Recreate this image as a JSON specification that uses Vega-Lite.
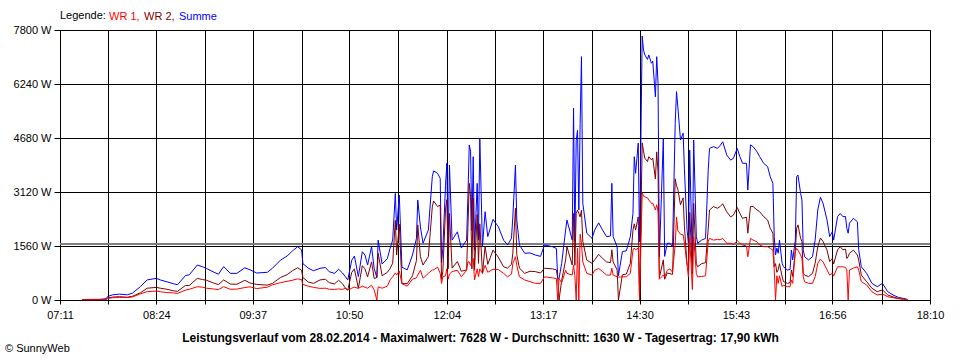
{
  "$schema": "https://vega.github.io/schema/vega-lite/v6.json",
  "width": 870,
  "height": 270,
  "autosize": {"type": "none"},
  "padding": {"left": 60, "top": 30, "right": 30, "bottom": 60},
  "background": "white",
  "title": {"text": "© SunnyWeb", "orient": "bottom", "anchor": "start", "frame": "group", "fontSize": 11, "fontWeight": "normal", "font": "Liberation Sans", "color": "black", "dx": -55, "offset": 0},
  "data": {
    "format": {"parse": {"t": "date:'%H:%M'"}},
    "values": [
      {"t":"07:28","WR 1":5,"WR 2":10,"Summe":15},
      {"t":"07:41","WR 1":10,"WR 2":10,"Summe":20},
      {"t":"07:46","WR 1":15,"WR 2":20,"Summe":35},
      {"t":"07:47","WR 1":45,"WR 2":55,"Summe":100},
      {"t":"07:51","WR 1":65,"WR 2":85,"Summe":150},
      {"t":"07:56","WR 1":75,"WR 2":95,"Summe":170},
      {"t":"08:02","WR 1":70,"WR 2":80,"Summe":150},
      {"t":"08:06","WR 1":90,"WR 2":110,"Summe":200},
      {"t":"08:12","WR 1":180,"WR 2":210,"Summe":390},
      {"t":"08:17","WR 1":240,"WR 2":340,"Summe":580},
      {"t":"08:24","WR 1":260,"WR 2":365,"Summe":625},
      {"t":"08:27","WR 1":240,"WR 2":340,"Summe":580},
      {"t":"08:32","WR 1":215,"WR 2":310,"Summe":525},
      {"t":"08:37","WR 1":205,"WR 2":265,"Summe":470},
      {"t":"08:40","WR 1":190,"WR 2":250,"Summe":440},
      {"t":"08:46","WR 1":285,"WR 2":420,"Summe":705},
      {"t":"08:49","WR 1":310,"WR 2":420,"Summe":730},
      {"t":"08:55","WR 1":385,"WR 2":625,"Summe":1010},
      {"t":"08:59","WR 1":370,"WR 2":590,"Summe":960},
      {"t":"09:02","WR 1":340,"WR 2":570,"Summe":910},
      {"t":"09:07","WR 1":320,"WR 2":495,"Summe":815},
      {"t":"09:11","WR 1":300,"WR 2":445,"Summe":745},
      {"t":"09:15","WR 1":385,"WR 2":580,"Summe":965},
      {"t":"09:20","WR 1":310,"WR 2":460,"Summe":770},
      {"t":"09:25","WR 1":315,"WR 2":455,"Summe":770},
      {"t":"09:31","WR 1":360,"WR 2":570,"Summe":930},
      {"t":"09:35","WR 1":380,"WR 2":490,"Summe":870},
      {"t":"09:40","WR 1":330,"WR 2":450,"Summe":780},
      {"t":"09:48","WR 1":370,"WR 2":430,"Summe":800},
      {"t":"09:52","WR 1":440,"WR 2":480,"Summe":920},
      {"t":"09:58","WR 1":500,"WR 2":650,"Summe":1150},
      {"t":"10:03","WR 1":540,"WR 2":730,"Summe":1270},
      {"t":"10:07","WR 1":570,"WR 2":845,"Summe":1415},
      {"t":"10:11","WR 1":610,"WR 2":930,"Summe":1540},
      {"t":"10:14","WR 1":590,"WR 2":860,"Summe":1450},
      {"t":"10:15","WR 1":450,"WR 2":650,"Summe":1050},
      {"t":"10:19","WR 1":400,"WR 2":520,"Summe":920},
      {"t":"10:23","WR 1":365,"WR 2":480,"Summe":845},
      {"t":"10:28","WR 1":335,"WR 2":580,"Summe":915},
      {"t":"10:32","WR 1":340,"WR 2":600,"Summe":940},
      {"t":"10:35","WR 1":310,"WR 2":500,"Summe":815},
      {"t":"10:39","WR 1":305,"WR 2":465,"Summe":770},
      {"t":"10:42","WR 1":320,"WR 2":570,"Summe":890},
      {"t":"10:45","WR 1":305,"WR 2":470,"Summe":780},
      {"t":"10:47","WR 1":335,"WR 2":350,"Summe":680},
      {"t":"10:49","WR 1":290,"WR 2":290,"Summe":580},
      {"t":"10:52","WR 1":340,"WR 2":800,"Summe":1150},
      {"t":"10:54","WR 1":370,"WR 2":900,"Summe":1270},
      {"t":"10:57","WR 1":335,"WR 2":340,"Summe":675},
      {"t":"11:00","WR 1":400,"WR 2":990,"Summe":1395},
      {"t":"11:02","WR 1":370,"WR 2":900,"Summe":1300},
      {"t":"11:04","WR 1":340,"WR 2":670,"Summe":1010},
      {"t":"11:07","WR 1":430,"WR 2":1100,"Summe":1540},
      {"t":"11:09","WR 1":290,"WR 2":620,"Summe":910},
      {"t":"11:11","WR 1":0,"WR 2":650,"Summe":650},
      {"t":"11:12","WR 1":380,"WR 2":1350,"Summe":1730},
      {"t":"11:15","WR 1":340,"WR 2":700,"Summe":1040},
      {"t":"11:19","WR 1":400,"WR 2":800,"Summe":1200},
      {"t":"11:21","WR 1":580,"WR 2":910,"Summe":1490},
      {"t":"11:23","WR 1":670,"WR 2":1060,"Summe":1730},
      {"t":"11:25","WR 1":780,"WR 2":2300,"Summe":3080},
      {"t":"11:26","WR 1":720,"WR 2":1300,"Summe":2020},
      {"t":"11:28","WR 1":840,"WR 2":2190,"Summe":3030},
      {"t":"11:30","WR 1":470,"WR 2":480,"Summe":950},
      {"t":"11:34","WR 1":400,"WR 2":470,"Summe":870},
      {"t":"11:38","WR 1":600,"WR 2":700,"Summe":1300},
      {"t":"11:41","WR 1":640,"WR 2":1140,"Summe":1780},
      {"t":"11:42","WR 1":720,"WR 2":2170,"Summe":2890},
      {"t":"11:44","WR 1":860,"WR 2":1250,"Summe":2110},
      {"t":"11:46","WR 1":630,"WR 2":1010,"Summe":1640},
      {"t":"11:50","WR 1":770,"WR 2":1250,"Summe":2020},
      {"t":"11:53","WR 1":870,"WR 2":2690,"Summe":3560},
      {"t":"11:54","WR 1":870,"WR 2":2860,"Summe":3730},
      {"t":"11:57","WR 1":950,"WR 2":2700,"Summe":3660},
      {"t":"11:59","WR 1":770,"WR 2":2740,"Summe":3510},
      {"t":"12:00","WR 1":480,"WR 2":600,"Summe":1080},
      {"t":"12:01","WR 1":670,"WR 2":830,"Summe":1500},
      {"t":"12:03","WR 1":700,"WR 2":2600,"Summe":3300},
      {"t":"12:04","WR 1":900,"WR 2":2900,"Summe":3950},
      {"t":"12:05","WR 1":600,"WR 2":900,"Summe":1500},
      {"t":"12:06","WR 1":750,"WR 2":2500,"Summe":3900},
      {"t":"12:08","WR 1":820,"WR 2":920,"Summe":1730},
      {"t":"12:12","WR 1":860,"WR 2":1110,"Summe":1970},
      {"t":"12:15","WR 1":670,"WR 2":830,"Summe":1500},
      {"t":"12:19","WR 1":860,"WR 2":870,"Summe":1730},
      {"t":"12:20","WR 1":1100,"WR 2":2100,"Summe":3000},
      {"t":"12:21","WR 1":1100,"WR 2":3370,"Summe":4480},
      {"t":"12:22","WR 1":1000,"WR 2":3000,"Summe":4300},
      {"t":"12:23","WR 1":1100,"WR 2":900,"Summe":2000},
      {"t":"12:24","WR 1":1200,"WR 2":2940,"Summe":4140},
      {"t":"12:25","WR 1":580,"WR 2":860,"Summe":1440},
      {"t":"12:27","WR 1":900,"WR 2":2470,"Summe":3370},
      {"t":"12:28","WR 1":670,"WR 2":1060,"Summe":1730},
      {"t":"12:29","WR 1":900,"WR 2":2200,"Summe":4670},
      {"t":"12:31","WR 1":770,"WR 2":770,"Summe":1540},
      {"t":"12:33","WR 1":1000,"WR 2":1550,"Summe":2550},
      {"t":"12:35","WR 1":800,"WR 2":1030,"Summe":1830},
      {"t":"12:39","WR 1":890,"WR 2":1440,"Summe":2330},
      {"t":"12:43","WR 1":880,"WR 2":1240,"Summe":2120},
      {"t":"12:47","WR 1":770,"WR 2":960,"Summe":1730},
      {"t":"12:50","WR 1":670,"WR 2":920,"Summe":1590},
      {"t":"12:53","WR 1":750,"WR 2":1030,"Summe":1780},
      {"t":"12:54","WR 1":1050,"WR 2":1350,"Summe":2400},
      {"t":"12:56","WR 1":1250,"WR 2":2650,"Summe":3900},
      {"t":"12:57","WR 1":1000,"WR 2":1310,"Summe":2310},
      {"t":"12:59","WR 1":670,"WR 2":920,"Summe":1590},
      {"t":"13:03","WR 1":580,"WR 2":770,"Summe":1350},
      {"t":"13:07","WR 1":530,"WR 2":830,"Summe":1360},
      {"t":"13:11","WR 1":480,"WR 2":820,"Summe":1300},
      {"t":"13:15","WR 1":480,"WR 2":780,"Summe":1260},
      {"t":"13:18","WR 1":670,"WR 2":920,"Summe":1590},
      {"t":"13:24","WR 1":640,"WR 2":900,"Summe":1540},
      {"t":"13:27","WR 1":620,"WR 2":870,"Summe":1490},
      {"t":"13:28","WR 1":0,"WR 2":630,"Summe":630},
      {"t":"13:29","WR 1":620,"WR 2":0,"Summe":620},
      {"t":"13:31","WR 1":500,"WR 2":560,"Summe":1060},
      {"t":"13:34","WR 1":860,"WR 2":1160,"Summe":2020},
      {"t":"13:35","WR 1":770,"WR 2":1540,"Summe":2310},
      {"t":"13:39","WR 1":720,"WR 2":1010,"Summe":1730},
      {"t":"13:40","WR 1":1000,"WR 2":2500,"Summe":5540},
      {"t":"13:41","WR 1":700,"WR 2":1000,"Summe":1700},
      {"t":"13:42","WR 1":0,"WR 2":2500,"Summe":4600},
      {"t":"13:43","WR 1":1500,"WR 2":2600,"Summe":4900},
      {"t":"13:44","WR 1":0,"WR 2":2500,"Summe":2600},
      {"t":"13:45","WR 1":1900,"WR 2":2400,"Summe":5100},
      {"t":"13:46","WR 1":1650,"WR 2":2600,"Summe":7030},
      {"t":"13:47","WR 1":1100,"WR 2":1700,"Summe":2800},
      {"t":"13:50","WR 1":770,"WR 2":1150,"Summe":1930},
      {"t":"13:54","WR 1":720,"WR 2":1060,"Summe":1780},
      {"t":"13:56","WR 1":860,"WR 2":1160,"Summe":2020},
      {"t":"13:59","WR 1":910,"WR 2":1320,"Summe":2230},
      {"t":"14:02","WR 1":820,"WR 2":1200,"Summe":2020},
      {"t":"14:05","WR 1":720,"WR 2":1100,"Summe":1830},
      {"t":"14:08","WR 1":720,"WR 2":1080,"Summe":1850},
      {"t":"14:09","WR 1":920,"WR 2":1450,"Summe":3370},
      {"t":"14:10","WR 1":720,"WR 2":1100,"Summe":1830},
      {"t":"14:13","WR 1":670,"WR 2":870,"Summe":1540},
      {"t":"14:14","WR 1":660,"WR 2":0,"Summe":700},
      {"t":"14:17","WR 1":670,"WR 2":730,"Summe":1400},
      {"t":"14:20","WR 1":670,"WR 2":750,"Summe":1420},
      {"t":"14:23","WR 1":770,"WR 2":1060,"Summe":1830},
      {"t":"14:25","WR 1":1440,"WR 2":2020,"Summe":2500},
      {"t":"14:26","WR 1":1500,"WR 2":2200,"Summe":4140},
      {"t":"14:27","WR 1":1450,"WR 2":2020,"Summe":3660},
      {"t":"14:29","WR 1":1500,"WR 2":2400,"Summe":4530},
      {"t":"14:30","WR 1":0,"WR 2":0,"Summe":1680},
      {"t":"14:32","WR 1":3090,"WR 2":4540,"Summe":7628},
      {"t":"14:33","WR 1":3000,"WR 2":4300,"Summe":7220},
      {"t":"14:34","WR 1":2980,"WR 2":4100,"Summe":7080},
      {"t":"14:36","WR 1":2950,"WR 2":4000,"Summe":6950},
      {"t":"14:37","WR 1":2890,"WR 2":4140,"Summe":7080},
      {"t":"14:39","WR 1":2790,"WR 2":4050,"Summe":6840},
      {"t":"14:40","WR 1":2800,"WR 2":4100,"Summe":6900},
      {"t":"14:42","WR 1":2600,"WR 2":3500,"Summe":5870},
      {"t":"14:43","WR 1":2750,"WR 2":4280,"Summe":7030},
      {"t":"14:44","WR 1":2550,"WR 2":3700,"Summe":6260},
      {"t":"14:45","WR 1":600,"WR 2":650,"Summe":1250},
      {"t":"14:48","WR 1":720,"WR 2":1160,"Summe":4670},
      {"t":"14:49","WR 1":660,"WR 2":600,"Summe":1260},
      {"t":"14:51","WR 1":860,"WR 2":780,"Summe":1640},
      {"t":"14:53","WR 1":900,"WR 2":760,"Summe":1640},
      {"t":"14:55","WR 1":800,"WR 2":740,"Summe":1540},
      {"t":"14:57","WR 1":1600,"WR 2":3500,"Summe":5100},
      {"t":"14:58","WR 1":2400,"WR 2":3300,"Summe":6020},
      {"t":"14:59","WR 1":2000,"WR 2":3200,"Summe":5580},
      {"t":"15:01","WR 1":1900,"WR 2":2750,"Summe":4620},
      {"t":"15:03","WR 1":1880,"WR 2":2950,"Summe":4820},
      {"t":"15:04","WR 1":1640,"WR 2":2120,"Summe":3760},
      {"t":"15:06","WR 1":1000,"WR 2":1020,"Summe":2020},
      {"t":"15:07","WR 1":670,"WR 2":970,"Summe":1640},
      {"t":"15:08","WR 1":1800,"WR 2":2530,"Summe":4330},
      {"t":"15:10","WR 1":300,"WR 2":760,"Summe":1060},
      {"t":"15:11","WR 1":1830,"WR 2":2790,"Summe":4620},
      {"t":"15:13","WR 1":770,"WR 2":1060,"Summe":1830},
      {"t":"15:14","WR 1":670,"WR 2":960,"Summe":1640},
      {"t":"15:17","WR 1":680,"WR 2":1050,"Summe":1730},
      {"t":"15:20","WR 1":700,"WR 2":1080,"Summe":1780},
      {"t":"15:22","WR 1":1700,"WR 2":2050,"Summe":3750},
      {"t":"15:23","WR 1":1780,"WR 2":2600,"Summe":4380},
      {"t":"15:26","WR 1":1730,"WR 2":2700,"Summe":4430},
      {"t":"15:29","WR 1":1750,"WR 2":2650,"Summe":4380},
      {"t":"15:31","WR 1":1740,"WR 2":2700,"Summe":4460},
      {"t":"15:33","WR 1":1780,"WR 2":2780,"Summe":4570},
      {"t":"15:36","WR 1":1640,"WR 2":2550,"Summe":4190},
      {"t":"15:39","WR 1":1640,"WR 2":2400,"Summe":4040},
      {"t":"15:41","WR 1":1600,"WR 2":2450,"Summe":4090},
      {"t":"15:44","WR 1":1710,"WR 2":2670,"Summe":4380},
      {"t":"15:46","WR 1":1640,"WR 2":2500,"Summe":4140},
      {"t":"15:48","WR 1":1590,"WR 2":2360,"Summe":3950},
      {"t":"15:51","WR 1":1560,"WR 2":2390,"Summe":3950},
      {"t":"15:52","WR 1":1250,"WR 2":1930,"Summe":3180},
      {"t":"15:54","WR 1":1780,"WR 2":2700,"Summe":4480},
      {"t":"15:56","WR 1":1730,"WR 2":2700,"Summe":4430},
      {"t":"15:59","WR 1":1680,"WR 2":2600,"Summe":4280},
      {"t":"16:01","WR 1":1590,"WR 2":2550,"Summe":4140},
      {"t":"16:04","WR 1":1540,"WR 2":2410,"Summe":3950},
      {"t":"16:07","WR 1":1540,"WR 2":2310,"Summe":3850},
      {"t":"16:09","WR 1":1490,"WR 2":2070,"Summe":3560},
      {"t":"16:11","WR 1":1440,"WR 2":1930,"Summe":3370},
      {"t":"16:12","WR 1":870,"WR 2":960,"Summe":1830},
      {"t":"16:13","WR 1":0,"WR 2":1050,"Summe":1300},
      {"t":"16:14","WR 1":700,"WR 2":800,"Summe":1500},
      {"t":"16:15","WR 1":480,"WR 2":870,"Summe":1350},
      {"t":"16:16","WR 1":700,"WR 2":1050,"Summe":1730},
      {"t":"16:18","WR 1":385,"WR 2":675,"Summe":1060},
      {"t":"16:19","WR 1":430,"WR 2":530,"Summe":960},
      {"t":"16:22","WR 1":384,"WR 2":480,"Summe":867},
      {"t":"16:24","WR 1":385,"WR 2":500,"Summe":880},
      {"t":"16:25","WR 1":578,"WR 2":866,"Summe":1444},
      {"t":"16:26","WR 1":480,"WR 2":680,"Summe":1160},
      {"t":"16:28","WR 1":1400,"WR 2":1440,"Summe":1730},
      {"t":"16:29","WR 1":1490,"WR 2":2070,"Summe":3560},
      {"t":"16:30","WR 1":1440,"WR 2":2170,"Summe":3610},
      {"t":"16:32","WR 1":1300,"WR 2":1780,"Summe":3080},
      {"t":"16:33","WR 1":1200,"WR 2":1690,"Summe":2890},
      {"t":"16:34","WR 1":670,"WR 2":770,"Summe":1440},
      {"t":"16:35","WR 1":530,"WR 2":720,"Summe":1250},
      {"t":"16:38","WR 1":480,"WR 2":676,"Summe":1156},
      {"t":"16:41","WR 1":480,"WR 2":770,"Summe":1250},
      {"t":"16:43","WR 1":670,"WR 2":1060,"Summe":1730},
      {"t":"16:45","WR 1":1060,"WR 2":1540,"Summe":2600},
      {"t":"16:47","WR 1":1180,"WR 2":1790,"Summe":2970},
      {"t":"16:49","WR 1":1100,"WR 2":1690,"Summe":2790},
      {"t":"16:52","WR 1":870,"WR 2":1440,"Summe":2310},
      {"t":"16:54","WR 1":720,"WR 2":1110,"Summe":1830},
      {"t":"16:56","WR 1":770,"WR 2":1200,"Summe":1970},
      {"t":"16:57","WR 1":690,"WR 2":1040,"Summe":1730},
      {"t":"17:00","WR 1":960,"WR 2":1450,"Summe":2410},
      {"t":"17:02","WR 1":960,"WR 2":1540,"Summe":2500},
      {"t":"17:04","WR 1":960,"WR 2":1450,"Summe":2410},
      {"t":"17:06","WR 1":940,"WR 2":1470,"Summe":2410},
      {"t":"17:07","WR 1":870,"WR 2":1200,"Summe":2070},
      {"t":"17:08","WR 1":0,"WR 2":1250,"Summe":1930},
      {"t":"17:09","WR 1":870,"WR 2":1350,"Summe":2220},
      {"t":"17:12","WR 1":920,"WR 2":1440,"Summe":2360},
      {"t":"17:15","WR 1":960,"WR 2":1300,"Summe":2260},
      {"t":"17:16","WR 1":860,"WR 2":1150,"Summe":1450},
      {"t":"17:18","WR 1":530,"WR 2":720,"Summe":960},
      {"t":"17:22","WR 1":433,"WR 2":530,"Summe":770},
      {"t":"17:26","WR 1":240,"WR 2":340,"Summe":480},
      {"t":"17:30","WR 1":145,"WR 2":240,"Summe":385},
      {"t":"17:34","WR 1":170,"WR 2":290,"Summe":480},
      {"t":"17:38","WR 1":95,"WR 2":145,"Summe":240},
      {"t":"17:42","WR 1":65,"WR 2":90,"Summe":145},
      {"t":"17:46","WR 1":40,"WR 2":45,"Summe":75},
      {"t":"17:50","WR 1":20,"WR 2":25,"Summe":45},
      {"t":"17:53","WR 1":5,"WR 2":10,"Summe":15}
    ]
  },
  "encoding": {
    "x": {
      "field": "t",
      "type": "temporal",
      "scale": {"domain": [{"year":1900,"month":1,"date":1,"hours":7,"minutes":11}, {"year":1900,"month":1,"date":1,"hours":18,"minutes":10}]},
      "axis": {
        "values": [
          {"year":1900,"month":1,"date":1,"hours":7,"minutes":11},
          {"year":1900,"month":1,"date":1,"hours":7,"minutes":47,"seconds":37},
          {"year":1900,"month":1,"date":1,"hours":8,"minutes":24},
          {"year":1900,"month":1,"date":1,"hours":9,"minutes":0,"seconds":50},
          {"year":1900,"month":1,"date":1,"hours":9,"minutes":37},
          {"year":1900,"month":1,"date":1,"hours":10,"minutes":14,"seconds":3},
          {"year":1900,"month":1,"date":1,"hours":10,"minutes":50},
          {"year":1900,"month":1,"date":1,"hours":11,"minutes":27,"seconds":17},
          {"year":1900,"month":1,"date":1,"hours":12,"minutes":4},
          {"year":1900,"month":1,"date":1,"hours":12,"minutes":40,"seconds":30},
          {"year":1900,"month":1,"date":1,"hours":13,"minutes":17},
          {"year":1900,"month":1,"date":1,"hours":13,"minutes":53,"seconds":43},
          {"year":1900,"month":1,"date":1,"hours":14,"minutes":30},
          {"year":1900,"month":1,"date":1,"hours":15,"minutes":6,"seconds":57},
          {"year":1900,"month":1,"date":1,"hours":15,"minutes":43},
          {"year":1900,"month":1,"date":1,"hours":16,"minutes":20,"seconds":10},
          {"year":1900,"month":1,"date":1,"hours":16,"minutes":56},
          {"year":1900,"month":1,"date":1,"hours":17,"minutes":33,"seconds":23},
          {"year":1900,"month":1,"date":1,"hours":18,"minutes":10}
        ],
        "labelExpr": "seconds(datum.value) == 0 ? timeFormat(datum.value, '%H:%M') : ''",
        "labelFlush": false,
        "labelOverlap": false,
        "labelBound": false,
        "tickSize": 4,
        "labelPadding": 5,
        "title": "Leistungsverlauf vom 28.02.2014 - Maximalwert: 7628 W - Durchschnitt: 1630 W - Tagesertrag: 17,90 kWh",
        "titleFontWeight": "bold",
        "titleFontSize": 12,
        "titleFont": "Liberation Sans",
        "titleColor": "black",
        "titleX": 420,
        "titleY": 37,
        "titleAlign": "center",
        "titleBaseline": "middle"
      }
    }
  },
  "layer": [
    {
      "mark": {"type": "rule", "color": "#808080", "strokeWidth": 1},
      "encoding": {"y": {"datum": 1630, "type": "quantitative"}, "x": null}
    },
    {
      "mark": {"type": "line", "strokeWidth": 1},
      "encoding": {
        "y": {
          "field": "Summe", "type": "quantitative",
          "scale": {"domain": [0, 7800], "nice": false},
          "axis": {
            "values": [0, 1560, 3120, 4680, 6240, 7800],
            "labelExpr": "datum.value + ' W'",
            "tickSize": 6,
            "labelPadding": 3,
            "title": null
          }
        },
        "color": {
          "datum": "Summe",
          "type": "nominal",
          "scale": {"domain": ["WR 1", "WR 2", "Summe"], "range": ["#ff0000", "#800000", "#0000ff"]},
          "legend": {
            "orient": "none",
            "direction": "horizontal",
            "legendX": 0,
            "legendY": -19,
            "title": "Legende:",
            "titleOrient": "left",
            "titleFontWeight": "normal",
            "titleFontSize": 11,
            "titleFont": "Liberation Sans",
            "titleColor": "black",
            "titlePadding": 3,
            "labelFontSize": 11,
            "labelFont": "Liberation Sans",
            "labelOffset": -11,
            "columnPadding": 4,
            "symbolSize": 0,
            "symbolStrokeWidth": 0,
            "symbolOpacity": 0,
            "labelExpr": "datum.label == 'Summe' ? datum.label : datum.label + ','",
            "encode": {"labels": {"update": {"fill": {"scale": "color", "field": "value"}}}}
          }
        }
      }
    },
    {
      "mark": {"type": "line", "strokeWidth": 1},
      "encoding": {
        "y": {"field": "WR 2", "type": "quantitative"},
        "color": {"datum": "WR 2", "type": "nominal"}
      }
    },
    {
      "mark": {"type": "line", "strokeWidth": 1},
      "encoding": {
        "y": {"field": "WR 1", "type": "quantitative"},
        "color": {"datum": "WR 1", "type": "nominal"}
      }
    }
  ],
  "config": {
    "font": "Liberation Sans",
    "view": {"stroke": "black", "strokeWidth": 1},
    "axis": {
      "grid": true,
      "gridColor": "black",
      "gridOpacity": 1,
      "gridWidth": 1,
      "domainColor": "black",
      "tickColor": "black",
      "labelColor": "black",
      "labelFont": "Liberation Sans",
      "labelFontSize": 11
    }
  }
}
